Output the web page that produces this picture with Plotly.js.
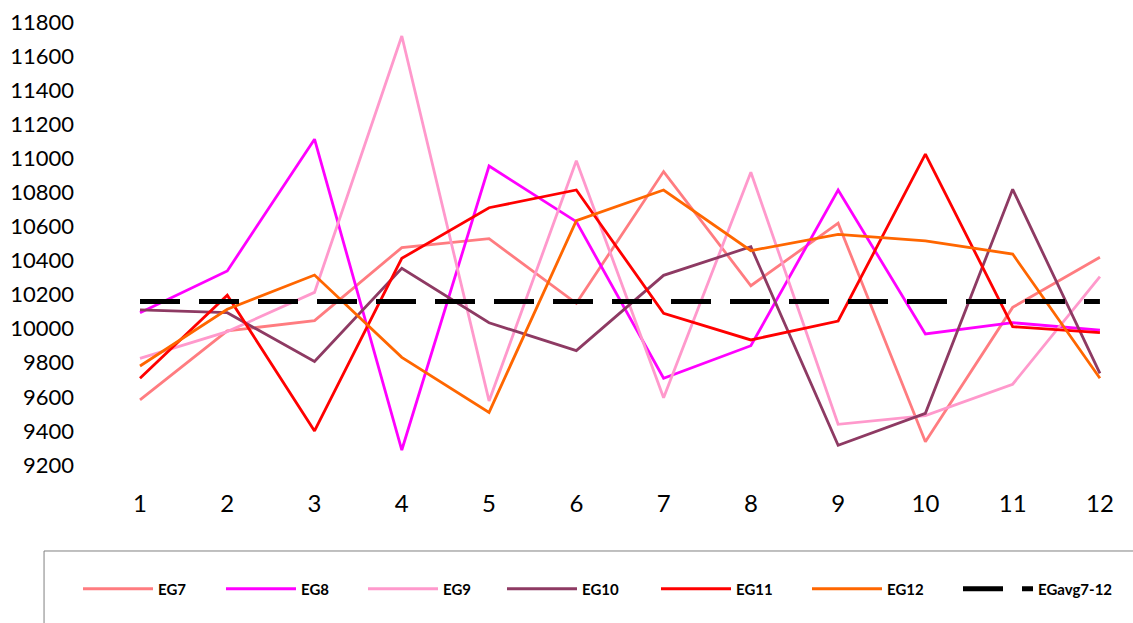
<!DOCTYPE html>
<html>
<head>
<meta charset="utf-8">
<script src="https://cdn.plot.ly/plotly-3.0.1.min.js"></script>
<style>html,body{margin:0;padding:0;background:#fff;}#chart{width:1133px;height:623px;}</style>
</head>
<body>
<div id="chart"></div>
<script>
const categories = [1, 2, 3, 4, 5, 6, 7, 8, 9, 10, 11, 12];
const EG7  = [9582, 9987, 10047, 10476, 10528, 10149, 10922, 10252, 10619, 9337, 10125, 10419];
const EG8  = [10094, 10339, 11112, 9288, 10955, 10628, 9709, 9900, 10814, 9969, 10035, 9992];
const EG9  = [9826, 9983, 10213, 11718, 9576, 10986, 9595, 10918, 9439, 9490, 9674, 10305];
const EG10 = [10110, 10094, 9807, 10354, 10035, 9871, 10313, 10481, 9316, 9503, 10818, 9738];
const EG11 = [9709, 10196, 9400, 10413, 10710, 10814, 10090, 9934, 10045, 11025, 10012, 9977];
const EG12 = [9781, 10114, 10315, 9832, 9509, 10634, 10814, 10458, 10554, 10515, 10438, 9709];
const EGavg = [10160, 10160, 10160, 10160, 10160, 10160, 10160, 10160, 10160, 10160, 10160, 10160];
const seriesNames = ["EG7", "EG8", "EG9", "EG10", "EG11", "EG12", "EGavg7-12"];
const yTicks = [9200, 9400, 9600, 9800, 10000, 10200, 10400, 10600, 10800, 11000, 11200, 11400, 11600, 11800];

const colors = ["#FF7C80", "#FF00FF", "#FF99CC", "#8E3A63", "#FF0000", "#FF6600", "#000000"];
const data = [EG7, EG8, EG9, EG10, EG11, EG12, EGavg];

const legendIds = ["legend", "legend2", "legend3", "legend4", "legend5", "legend6", "legend7"];

const traces = data.map((vals, i) => ({
  x: categories,
  y: vals,
  name: seriesNames[i],
  type: "scatter",
  mode: "lines",
  legend: legendIds[i],
  line: i === 6
    ? {color: colors[i], width: 5, dash: "40px,19px"}
    : {color: colors[i], width: 2.8},
  hoverinfo: "x+y+name"
}));

const layout = {
  width: 1133,
  height: 623,
  margin: {l: 96, r: 0, t: 22, b: 158, autoexpand: false},
  paper_bgcolor: "#ffffff",
  plot_bgcolor: "#ffffff",
  showlegend: true,
  xaxis: {
    range: [0.4958, 12.379],
    tickvals: categories,
    ticktext: categories.map(String),
    showgrid: false,
    zeroline: false,
    showline: false,
    ticks: "",
    ticklabelstandoff: 22,
    tickfont: {family: "Lato, 'Open Sans', sans-serif", size: 24, color: "#000"}
  },
  yaxis: {
    range: [9200, 11800],
    tickvals: yTicks,
    ticktext: yTicks.map(String),
    showgrid: false,
    zeroline: false,
    showline: false,
    ticks: "",
    ticklabelstandoff: 21,
    tickfont: {family: "Lato, 'Open Sans', sans-serif", size: 22, color: "#000"}
  },
  shapes: [{
    type: "rect",
    xref: "paper", yref: "paper",
    x0: -0.0501, x1: 1.0068, y0: -0.1941, y1: -0.3725,
    line: {color: "#808080", width: 1},
    fillcolor: "rgba(0,0,0,0)"
  }]
};

// one small legend box per series, laid out in a row like the original
const legendLeftPaper = [-0.01736, 0.12054, 0.25747, 0.39151, 0.54002, 0.68563, 0.83124];
legendIds.forEach((id, i) => {
  layout[id] = {
    orientation: "h",
    x: legendLeftPaper[i],
    xanchor: "left",
    y: -0.2799,
    yanchor: "middle",
    itemwidth: 70,
    bgcolor: "rgba(0,0,0,0)",
    borderwidth: 0,
    font: {family: "Lato, 'Open Sans', sans-serif", size: 15, color: "#000", weight: "bold"}
  };
});

Plotly.newPlot("chart", traces, layout, {displayModeBar: false, staticPlot: true});
</script>
</body>
</html>
